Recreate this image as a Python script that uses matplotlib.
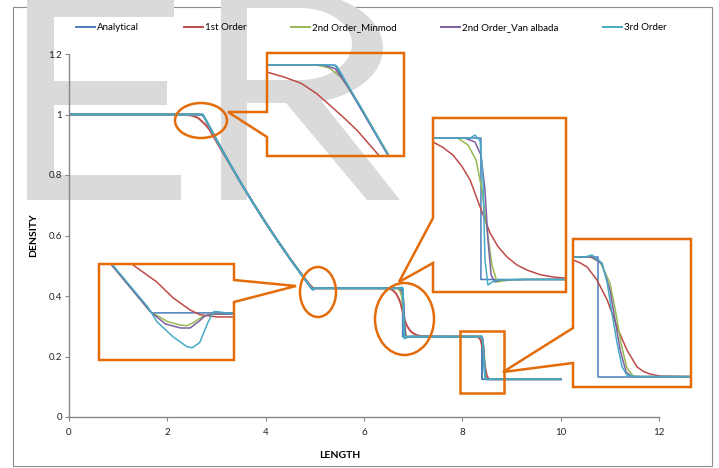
import numpy as np
import matplotlib.pyplot as plt
from matplotlib.patches import Ellipse, Polygon, Rectangle

plt.rcParams['font.family'] = ['Lato', 'DejaVu Sans']

# density along the tube, one pair of lists per scheme
x_analytical = [0.0, 2.72, 3.0, 3.25, 3.5, 3.75, 4.0, 4.25, 4.5, 4.75, 4.93, 6.79, 6.79, 8.40, 8.40, 10.0]
rho_analytical = [1.0, 1.0, 0.916, 0.843, 0.773, 0.706, 0.642, 0.581, 0.522, 0.466, 0.426, 0.426, 0.2656, 0.2656, 0.125, 0.125]

x_first = [0.0, 2.2, 2.35, 2.42, 2.50, 2.555, 2.61, 2.66, 2.71, 2.75, 2.79, 2.86, 3.0, 3.25, 3.5, 3.75, 4.0,
           4.25, 4.5, 4.75, 4.85, 4.913, 4.935, 4.950, 4.966, 4.975, 4.991, 5.01, 6.30, 6.45, 6.51, 6.564, 6.61,
           6.658, 6.70, 6.739, 6.786, 6.833, 6.87, 6.913, 6.96, 7.007, 7.07, 7.130, 7.177, 7.35, 8.25, 8.30,
           8.336, 8.355, 8.372, 8.397, 8.423, 8.448, 8.473, 8.499, 8.515, 8.532, 8.557, 8.62, 10.0]
rho_first = [1.0, 1.0, 0.999, 0.998, 0.9961, 0.9933, 0.9898, 0.984, 0.9763, 0.970, 0.9633, 0.9492, 0.910, 0.841,
             0.772, 0.706, 0.642, 0.581, 0.523, 0.468, 0.4475, 0.4342, 0.4313, 0.4286, 0.4265, 0.4257, 0.4253,
             0.4253, 0.4253, 0.4245, 0.4235, 0.4215, 0.4155, 0.4067, 0.3940, 0.3784, 0.3478, 0.3183, 0.3030,
             0.2911, 0.2820, 0.2763, 0.2710, 0.2684, 0.2673, 0.2658, 0.2656, 0.2645, 0.2621, 0.2585, 0.2538,
             0.2385, 0.2150, 0.1832, 0.1562, 0.1362, 0.1310, 0.1280, 0.1256, 0.1250, 0.125]

x_minmod = [0.0, 2.66, 2.70, 2.74, 2.80, 3.0, 3.25, 3.5, 3.75, 4.0, 4.25, 4.5, 4.75, 4.929, 4.945, 4.957, 4.963,
            4.969, 4.977, 4.985, 6.682, 6.729, 6.767, 6.795, 6.819, 6.842, 6.866, 6.889, 6.927, 7.0, 8.379, 8.405,
            8.430, 8.445, 8.458, 8.473, 8.489, 8.51, 10.0]
rho_minmod = [1.0, 1.0, 0.9985, 0.993, 0.977, 0.917, 0.843, 0.773, 0.706, 0.642, 0.581, 0.522, 0.466, 0.4262,
              0.4245, 0.4239, 0.4238, 0.4243, 0.4253, 0.4258, 0.4258, 0.4181, 0.4010, 0.3670, 0.3217, 0.2820,
              0.2627, 0.2638, 0.2650, 0.2656, 0.2656, 0.2597, 0.2350, 0.1997, 0.1644, 0.1350, 0.1256, 0.125, 0.125]

x_vanalbada = [0.0, 2.68, 2.72, 2.76, 2.80, 3.0, 3.25, 3.5, 3.75, 4.0, 4.25, 4.5, 4.75, 4.929, 4.943, 4.957,
               4.966, 4.974, 4.980, 4.987, 6.715, 6.762, 6.790, 6.809, 6.823, 6.838, 6.856, 6.880, 7.0, 8.384,
               8.410, 8.430, 8.443, 8.456, 8.471, 8.486, 8.51, 10.0]
rho_vanalbada = [1.0, 1.0, 0.998, 0.988, 0.9765, 0.916, 0.843, 0.773, 0.706, 0.642, 0.581, 0.522, 0.466, 0.4262,
                 0.4241, 0.4234, 0.4234, 0.4245, 0.4255, 0.4258, 0.4258, 0.4215, 0.4067, 0.3670, 0.3103, 0.2707,
                 0.2627, 0.2650, 0.2656, 0.2656, 0.2574, 0.2268, 0.1915, 0.1562, 0.1303, 0.1250, 0.125, 0.125]

x_third = [0.0, 2.70, 2.725, 2.75, 2.80, 3.0, 3.25, 3.5, 3.75, 4.0, 4.25, 4.5, 4.75, 4.927, 4.935, 4.950, 4.963,
           4.968, 4.975, 4.983, 4.988, 4.992, 5.006, 6.739, 6.762, 6.786, 6.800, 6.809, 6.823, 6.842, 6.871, 7.0,
           8.367, 8.384, 8.410, 8.423, 8.435, 8.448, 8.461, 8.473, 8.494, 10.0]
rho_third = [1.0, 1.0, 0.9995, 0.992, 0.977, 0.916, 0.843, 0.773, 0.706, 0.642, 0.581, 0.522, 0.466, 0.4269,
             0.4245, 0.4219, 0.4202, 0.4200, 0.4209, 0.4245, 0.4262, 0.4262, 0.4258, 0.4258, 0.4294, 0.4226,
             0.3784, 0.2877, 0.2593, 0.2627, 0.2650, 0.2656, 0.2656, 0.2680, 0.2585, 0.2350, 0.1997, 0.1644,
             0.1362, 0.1268, 0.1250, 0.125]

labels = ["Analytical", "1st Order", "2nd Order_Minmod", "2nd Order_Van albada", "3rd Order"]
colors = ["#4a7ebb", "#be4b48", "#98b954", "#7d60a0", "#46aac5"]
x_ticks = [0, 2, 4, 6, 8, 10, 12]
y_ticks = [0, 0.2, 0.4, 0.6, 0.8, 1.0, 1.2]
y_tick_labels = ["0", "0.2", "0.4", "0.6", "0.8", "1", "1.2"]

series = [(x_analytical, rho_analytical), (x_first, rho_first), (x_minmod, rho_minmod),
          (x_vanalbada, rho_vanalbada), (x_third, rho_third)]

W, H = 719, 468
ORANGE = '#e36c09'
GREY = '#868686'
fig = plt.figure(figsize=(W / 100, H / 100), dpi=100)


def px_axes(x0, y0, x1, y1, **kw):
    # axes from a pixel box measured from the top-left corner
    return fig.add_axes([x0 / W, 1 - y1 / H, (x1 - x0) / W, (y1 - y0) / H], **kw)


def pixel_layer(z):
    a = px_axes(0, 0, W, H, zorder=z)
    a.set_xlim(0, W)
    a.set_ylim(H, 0)
    a.axis('off')
    return a


def arc(cx, cy, rx, ry, t0, t1, n=40):
    t = np.radians(np.linspace(t0, t1, n))
    return list(zip(cx + rx * np.cos(t), cy + ry * np.sin(t)))


# ---- background: outer frame and the big grey letters
bg = pixel_layer(0)
bg.add_patch(Rectangle((13, 7), 699, 459, fill=False, ec='#8c8c8c', lw=0.8, zorder=1))
letter_e = [(27, -5), (174, -5), (174, 17), (54, 17), (54, 81), (167, 81), (167, 105), (54, 105),
            (54, 175), (181, 175), (181, 200), (27, 200)]
letter_r = ([(247, 200), (221, 200), (221, -7), (300, -7)] + arc(300, 48, 83, 55, -90, 75)
            + [(400, 200), (367, 200), (286, 103), (247, 103)])
r_hole = [(247, 8), (300, 8)] + arc(300, 44, 52, 36, -90, 90) + [(247, 80)]
bg.add_patch(Polygon(letter_e, closed=True, fc='#dadada', ec='none', zorder=2))
bg.add_patch(Polygon(letter_r, closed=True, fc='#dadada', ec='none', zorder=2))
bg.add_patch(Polygon(r_hole, closed=True, fc='white', ec='none', zorder=3))

# ---- main chart
ax = px_axes(69, 54, 659, 417, zorder=1)
ax.patch.set_visible(False)
for (xs, ys), lab, c in zip(series, labels, colors):
    ax.plot(xs, ys, color=c, lw=1.4, label=lab)
ax.set_xlim(0, 12)
ax.set_ylim(0, 1.2)
ax.set_xticks(x_ticks)
ax.set_yticks(y_ticks)
ax.set_yticklabels(y_tick_labels)
for side in ['top', 'right']:
    ax.spines[side].set_visible(False)
for side in ['left', 'bottom']:
    ax.spines[side].set_color(GREY)
    ax.spines[side].set_linewidth(1.0)
ax.tick_params(axis='both', length=3, width=0.8, color=GREY, labelsize=7, labelcolor='#222222')
ax.tick_params(axis='y', pad=2)
ax.tick_params(axis='x', pad=5)
ax.set_xlabel('LENGTH', fontsize=7.5, fontweight='bold')
ax.set_ylabel('DENSITY', fontsize=7.5, fontweight='bold')
ax.xaxis.set_label_coords((340 - 69) / 590, -(451 - 417) / 363)
ax.yaxis.set_label_coords(-(69 - 38) / 590, 0.5)
ax.legend(loc='center left', bbox_to_anchor=(76, 28), bbox_transform=bg.transData, ncol=5,
          frameon=False, fontsize=7, handlelength=1.95, handletextpad=0.2, columnspacing=4.6,
          borderpad=0, borderaxespad=0)

# ---- zoomed views: pixel box, x range, density range
insets = [((267, 53, 404, 156), (2.501, 2.941), (0.9488, 1.0068)),
          ((99, 264, 234, 360), (4.881, 5.007), (0.4179, 0.4344)),
          ((433, 118, 566, 292), (6.564, 7.191), (0.2514, 0.4487)),
          ((573, 239, 691, 387), (8.336, 8.636), (0.1127, 0.2868))]
for box, xl, yl in insets:
    iax = px_axes(*box, zorder=4)
    for (xs, ys), c in zip(series, colors):
        iax.plot(xs, ys, color=c, lw=1.1)
    iax.set_xlim(xl)
    iax.set_ylim(yl)
    iax.axis('off')

# ---- callout outlines and highlight marks
top = pixel_layer(5)
callouts = [
    [(267, 53), (404, 53), (404, 156), (267, 156), (267, 137), (228, 112), (267, 112)],
    [(99, 264), (234, 264), (234, 280), (296, 286), (234, 302), (234, 360), (99, 360)],
    [(433, 118), (566, 118), (566, 292), (433, 292), (433, 263), (399, 282), (433, 218)],
    [(573, 239), (691, 239), (691, 387), (573, 387), (573, 363), (503, 372), (573, 328)],
]
for pts in callouts:
    top.add_patch(Polygon(pts, closed=True, fill=False, ec=ORANGE, lw=1.8, joinstyle='miter'))
for (cx, cy), w, h in [((201, 120.5), 52, 35), ((318, 292), 36, 50), ((404.5, 319), 59, 72)]:
    top.add_patch(Ellipse((cx, cy), w, h, fill=False, ec=ORANGE, lw=1.8))
top.add_patch(Rectangle((460, 331), 44, 62, fill=False, ec=ORANGE, lw=1.8))

fig.savefig('out.png', dpi=100)
